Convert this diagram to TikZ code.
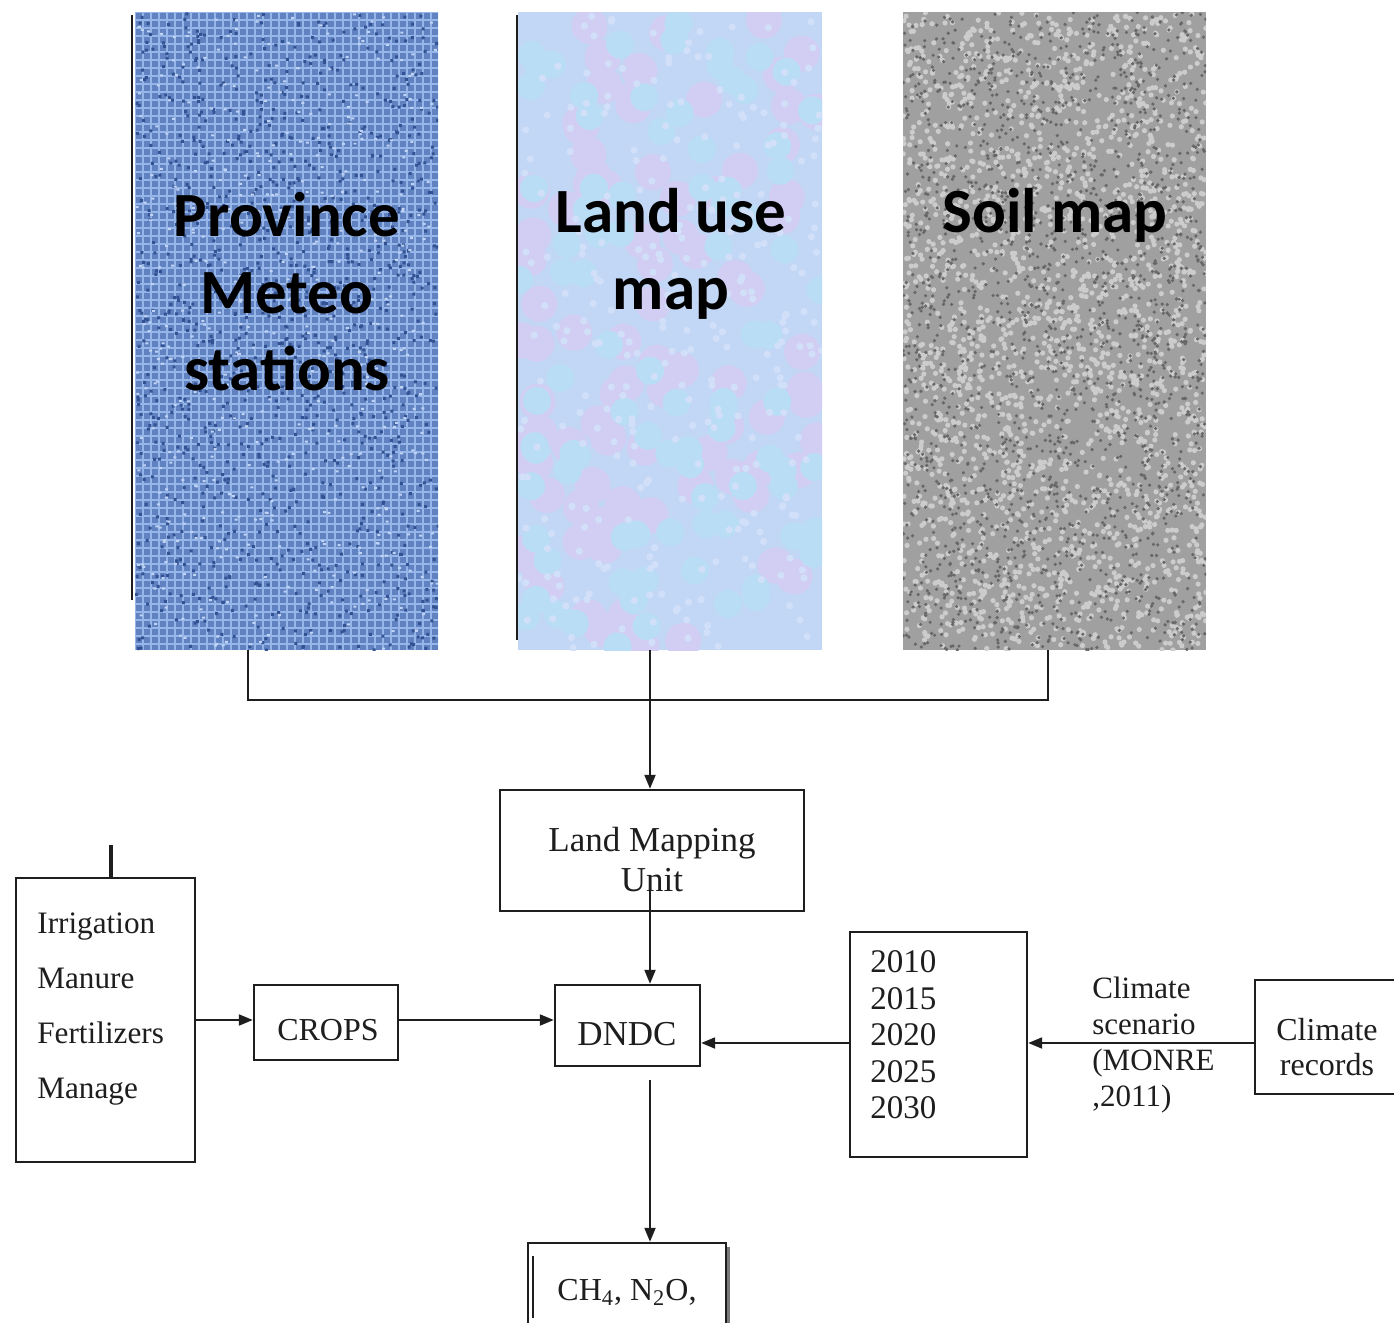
\documentclass[tikz,border=0pt]{standalone}
\usepackage{fontspec}
\setmainfont{Liberation Serif}
\newfontfamily\headfont{Carlito}
\usetikzlibrary{arrows.meta,fit}

\definecolor{weaveBase}{RGB}{96,130,192}
\definecolor{weaveLight}{RGB}{150,182,234}
\definecolor{weaveDark}{RGB}{50,82,148}
\definecolor{pastelBase}{RGB}{194,214,246}
\definecolor{pastelPink}{RGB}{210,206,243}
\definecolor{pastelCyan}{RGB}{186,221,246}
\definecolor{granBase}{RGB}{160,160,160}
\definecolor{granDark}{RGB}{104,104,104}
\definecolor{granLight}{RGB}{204,204,204}
\definecolor{ink}{RGB}{30,30,30}

\begin{document}
\begin{tikzpicture}[x=0.5pt,y=-0.5pt,
  box/.style={draw=ink,line width=1.2pt,inner sep=0pt},
  panel/.style={inner sep=0pt},
  flow/.style={line width=1pt,draw=ink},
  arr/.style={flow,-{Triangle[length=7pt,width=5.5pt]}},
  head/.style={font=\headfont\bfseries\fontsize{31.5}{38.5}\selectfont,align=center,text=black},
  lbl/.style={font=\fontsize{16}{19}\selectfont,text=ink,inner sep=0pt},
]
\useasboundingbox (0,0) rectangle (1394,1323);
\clip (0,0) rectangle (1394,1323);
\fill[white] (0,0) rectangle (1394,1323);

% ---------- input maps ----------
\node[panel,fit={(135,12) (438,650)}] (meteo) {};
\node[panel,fit={(518,12) (822,650)}] (landuse) {};
\node[panel,fit={(903,12) (1206,650)}] (soil) {};

% woven blue texture: one path per colour
\begin{scope}
  \clip (135,12) rectangle (438,650);
  \fill[weaveBase] (135,12) rectangle (438,650);
  \pgfmathsetseed{11}
  \draw[weaveLight,line width=1.2pt]
    \foreach \k in {0,...,38} { (135+8*\k,12) -- ++(0,638) }
    \foreach \k in {0,...,80} { (135,12+8*\k) -- ++(303,0) };
  \fill[weaveDark]
    \foreach \i in {1,...,1100} { (135+303*rnd,12+638*rnd) rectangle ++(3,3) };
  \fill[weaveLight!60!white]
    \foreach \i in {1,...,500} { (135+303*rnd,12+638*rnd) rectangle ++(3,2) };
\end{scope}

% pastel texture
\begin{scope}
  \clip (518,12) rectangle (822,650);
  \fill[pastelBase] (518,12) rectangle (822,650);
  \pgfmathsetseed{23}
  \fill[pastelPink]
    \foreach \i in {1,...,90} { (518+304*rnd,12+638*rnd) circle (9pt) };
  \fill[pastelCyan]
    \foreach \i in {1,...,90} { (518+304*rnd,12+638*rnd) circle (7pt) };
  \fill[pastelBase!75!white]
    \foreach \i in {1,...,300} { (518+304*rnd,12+638*rnd) circle (1.8pt) };
\end{scope}

% granite texture
\begin{scope}
  \clip (903,12) rectangle (1206,650);
  \fill[granBase] (903,12) rectangle (1206,650);
  \pgfmathsetseed{37}
  \fill[granLight]
    \foreach \i in {1,...,2300} { (903+303*rnd,12+638*rnd) circle (1.3pt) };
  \fill[granDark]
    \foreach \i in {1,...,1900} { (903+303*rnd,12+638*rnd) circle (0.9pt) };
\end{scope}

\draw[ink,line width=0.8pt] (132,15) -- (132,600);
\draw[ink,line width=0.8pt] (517,15) -- (517,640);

\node[head] at (287,292) {Province\\Meteo\\stations};
\node[head] at (671,253.5) {Land use\\map};
\node[head] at (1055,215) {Soil map};

% ---------- model boxes ----------
\node[box,fit={(500,790) (804,911)}] (lmu) {};
\node[lbl,font=\fontsize{17.5}{20}\selectfont,align=center] at (652,860) {Land Mapping\\Unit};

\node[box,fit={(555,985) (700,1066)}] (dndc) {};
\node[lbl,font=\fontsize{17.5}{20}\selectfont] at (627,1034) {DNDC};

\node[box,fit={(16,878) (195,1162)}] (mgmt) {};
\node[lbl,anchor=west,align=left,font=\fontsize{15.6}{27.5}\selectfont] at (37,1009)
  {Irrigation\\Manure\\Fertilizers\\Manage};
\draw[ink,line width=1.6pt] (111,845) -- (mgmt.north -| 111,0);

\node[box,fit={(254,985) (398,1060)}] (crops) {};
\node[lbl,font=\fontsize{16}{19}\selectfont] at (328,1030) {CROPS};

\node[box,fit={(850,932) (1027,1157)}] (years) {};
\node[lbl,anchor=west,align=left,font=\fontsize{16.5}{18.25}\selectfont] at (870,1035)
  {2010\\2015\\2020\\2025\\2030};

\node[box,fit={(1255,980) (1420,1094)}] (records) {};
\node[lbl,align=center,font=\fontsize{16}{17.5}\selectfont] at (1327,1047) {Climate\\records};

\node[box,fit={(528,1243) (726,1340)}] (ghg) {};
\node[lbl] at (627,1292) {CH\textsubscript{4}, N\textsubscript{2}O,};
\draw[ink,line width=1pt] (533,1256) -- (533,1318);
\draw[ink!60,line width=1.2pt] (728.5,1247) -- (728.5,1340);

% ---------- connectors ----------
\coordinate (j1) at (248,700);
\coordinate (j2) at (650,700);
\coordinate (j3) at (1048,700);
\coordinate (lmuout) at (650,890);
\coordinate (dndcout) at (650,1080);

\draw[flow] (meteo.south -| j1) -- (j1) -- (j3) -- (soil.south -| j3);
\draw[arr] (landuse.south -| j2) -- (lmu.north -| j2);
\draw[arr] (lmuout) -- (dndc.north -| lmuout);
\draw[arr] (mgmt.east |- 0,1020) -- (crops.west |- 0,1020);
\draw[arr] (crops.east |- 0,1020) -- (dndc.west |- 0,1020);
\draw[arr] (years.west |- 0,1043) -- (dndc.east |- 0,1043);
\draw[arr] (records.west |- 0,1043) -- (years.east |- 0,1043);
\draw[arr] (dndcout) -- (ghg.north -| dndcout);

\node[lbl,anchor=west,align=left,font=\fontsize{15.5}{18}\selectfont] at (1092,1045)
  {Climate\\scenario\\(MONRE\\,2011)};
\end{tikzpicture}
\end{document}
